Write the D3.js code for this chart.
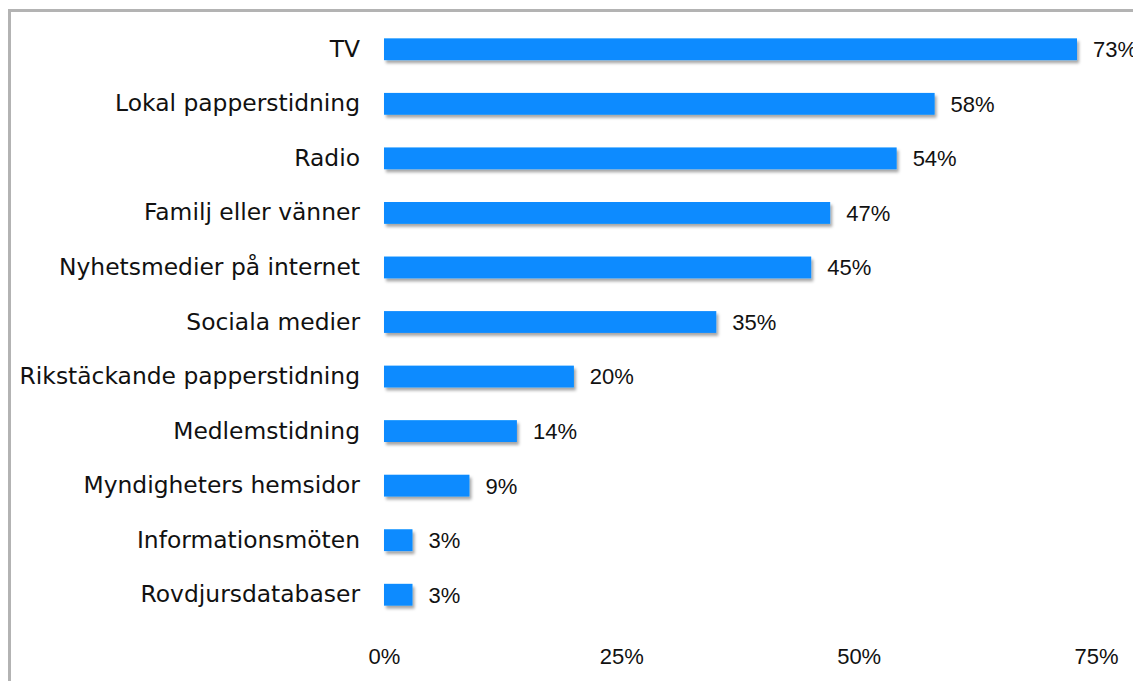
<!DOCTYPE html>
<head>
<meta charset="utf-8">
<script src="https://d3js.org/d3.v7.min.js"></script>
<style>
  body { margin: 0; background: #fff; }
  .cat text { font-family: "DejaVu Sans", sans-serif; font-size: 23.4px; fill: #111; }
  .val, .x.axis text { font-family: "Liberation Sans", Arial, sans-serif; font-size: 22px; fill: #111; }
</style>
</head>
<body>
<div class="chart"></div>
<script>
var categories = ["TV", "Lokal papperstidning", "Radio", "Familj eller vänner",
  "Nyhetsmedier på internet", "Sociala medier", "Rikstäckande papperstidning",
  "Medlemstidning", "Myndigheters hemsidor", "Informationsmöten", "Rovdjursdatabaser"];
var values = [73, 58, 54, 47, 45, 35, 20, 14, 9, 3, 3];
var ticks = [0, 25, 50, 75];

var width = 1133, height = 681;

var svg = d3.select(".chart").append("svg")
    .attr("width", width)
    .attr("height", height);

var defs = svg.append("defs");
var f = defs.append("filter").attr("id", "shadow")
    .attr("x", "-10%").attr("y", "-30%").attr("width", "130%").attr("height", "190%");
f.append("feDropShadow")
    .attr("dx", 2).attr("dy", 3).attr("stdDeviation", 1.8)
    .attr("flood-color", "#000").attr("flood-opacity", 0.35);

// frame
svg.append("rect")
    .attr("x", 9.5).attr("y", 10.5)
    .attr("width", width + 20).attr("height", height + 20)
    .attr("fill", "none").attr("stroke", "#b3b3b3").attr("stroke-width", 3);

var x = d3.scaleLinear().domain([0, 75]).range([384, 1096]);
var y = d3.scaleBand().domain(categories).range([22, 622]).paddingInner(0.6).paddingOuter(0.3);

svg.append("g").attr("class", "bars")
  .selectAll("rect")
  .data(values)
  .enter().append("rect")
    .attr("x", x(0))
    .attr("y", function(d, i) { return y(categories[i]); })
    .attr("width", function(d) { return x(d) - x(0); })
    .attr("height", y.bandwidth())
    .attr("fill", "#088bff")
    .attr("filter", "url(#shadow)");

svg.append("g").attr("class", "labels")
  .selectAll("text")
  .data(values)
  .enter().append("text")
    .attr("class", "val")
    .attr("x", function(d) { return x(d) + 16; })
    .attr("y", function(d, i) { return y(categories[i]) + y.bandwidth() / 2; })
    .attr("dy", "0.36em")
    .text(function(d) { return d + "%"; });

var yAxis = d3.axisLeft(y).tickSize(0).tickPadding(24);
svg.append("g").attr("class", "cat")
    .attr("transform", "translate(" + x(0) + ",0)")
    .call(yAxis)
    .call(function(g) { g.select(".domain").remove(); });

var xAxis = d3.axisBottom(x).tickValues(ticks).tickSize(0).tickPadding(0)
    .tickFormat(function(d) { return d + "%"; });
svg.append("g").attr("class", "x axis")
    .attr("transform", "translate(0,648)")
    .call(xAxis)
    .call(function(g) { g.select(".domain").remove(); });
</script>
</body>
